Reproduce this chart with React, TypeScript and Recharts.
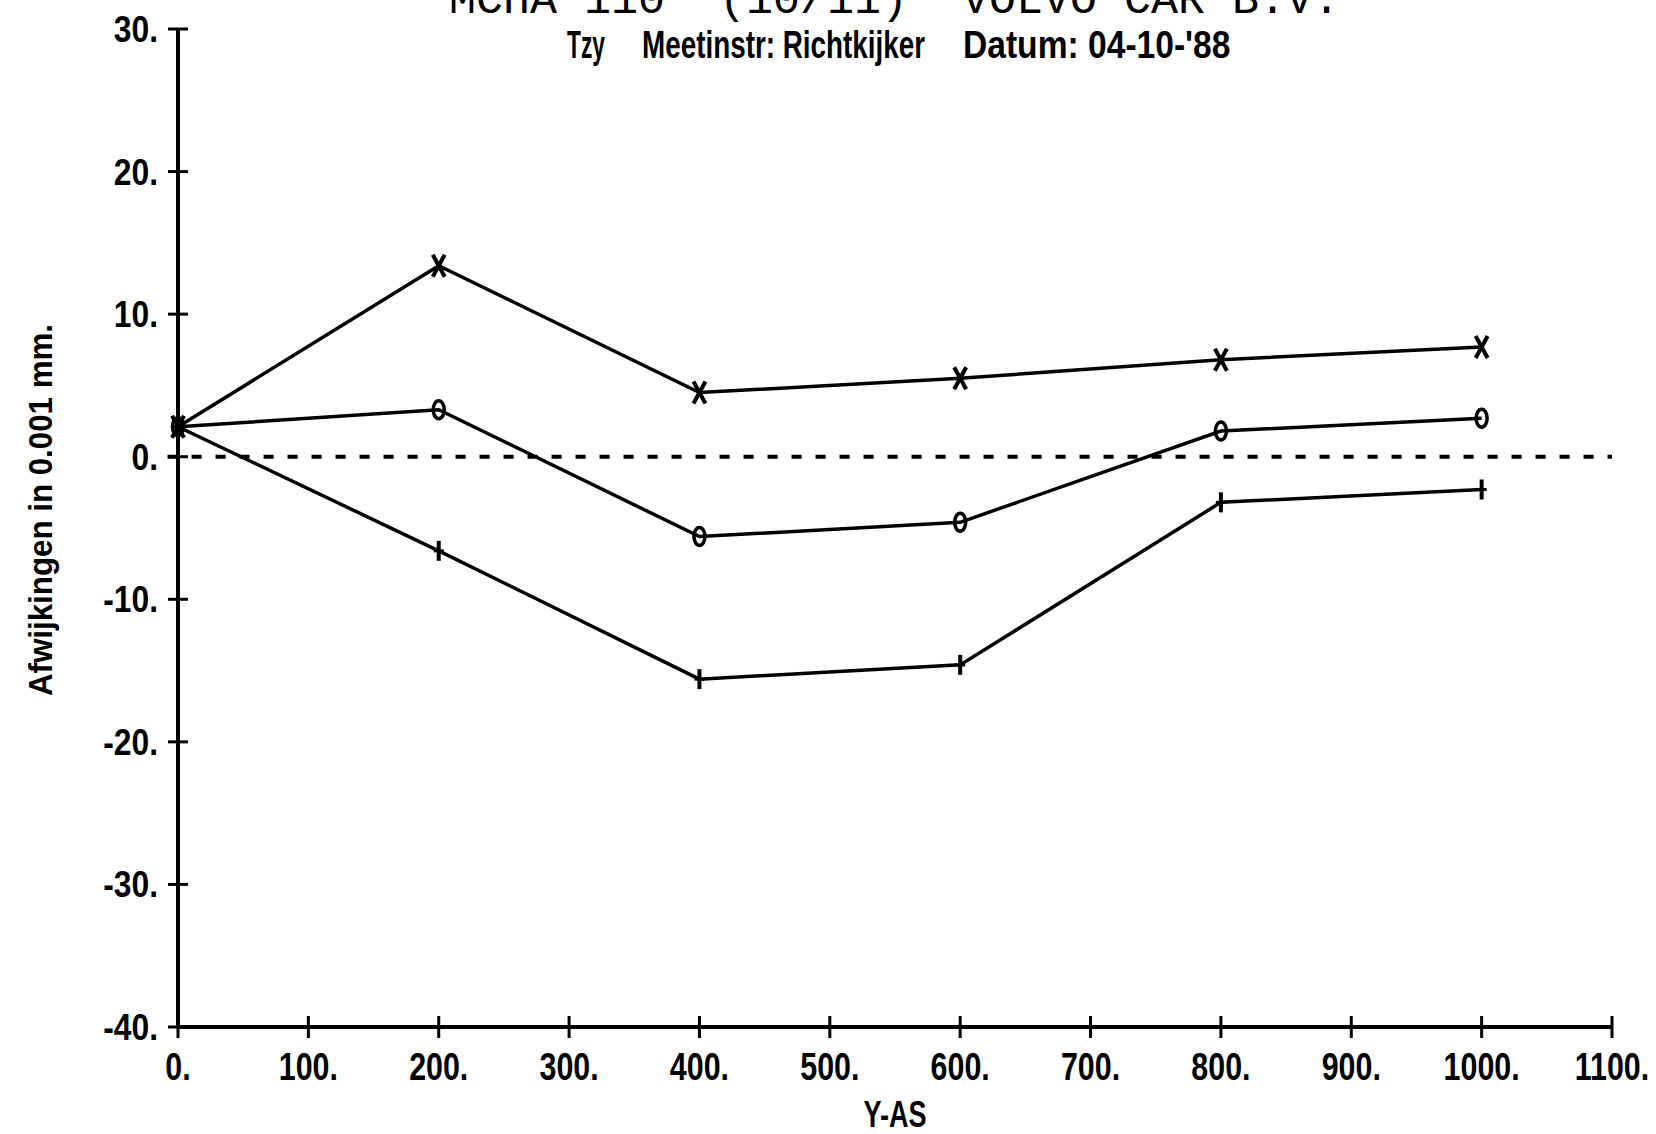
import { LineChart, Line, XAxis, YAxis, ReferenceLine } from 'recharts';

// positions along the Y-AS (mm) and deviations (0.001 mm)
const positions = [0, 200, 400, 600, 800, 1000];
const crossSeries = [2.1, 13.4, 4.5, 5.5, 6.8, 7.7];
const circleSeries = [2.1, 3.3, -5.6, -4.6, 1.8, 2.7];
const plusSeries = [2.1, -6.6, -15.6, -14.6, -3.2, -2.3];

const xTicks = [0, 100, 200, 300, 400, 500, 600, 700, 800, 900, 1000, 1100];
const yTicks = [-40, -30, -20, -10, 0, 10, 20, 30];

const titleParts = ['MCHA', '110', '(10/11)', 'VOLVO', 'CAR', 'B.V.'];
const subtitleParts = ['Tzy', 'Meetinstr: Richtkijker', "Datum: 04-10-'88"];

const data = positions.map((p, i) => ({
  pos: p,
  cross: crossSeries[i],
  circle: circleSeries[i],
  plus: plusSeries[i],
}));

const FONT = "'Liberation Sans', Arial, sans-serif";
const MONO = "'Liberation Mono', 'DejaVu Sans Mono', monospace";
const INK = '#000';

function XTick({ x, y, payload }: any) {
  return (
    <g>
      <line x1={x} x2={x} y1={y - 11} y2={y + 11} stroke={INK} strokeWidth={3} />
      <text
        transform={`translate(${x},${y + 53}) scale(0.8,1)`}
        textAnchor="middle"
        fontSize={38}
        fontFamily={FONT}
        fontWeight="bold"
        fill={INK}
      >
        {`${payload.value}.`}
      </text>
    </g>
  );
}

function YTick({ x, y, payload }: any) {
  return (
    <g>
      <line x1={x - 10} x2={x + 10} y1={y} y2={y} stroke={INK} strokeWidth={3} />
      <text
        transform={`translate(${x - 20},${y + 13}) scale(0.86,1)`}
        textAnchor="end"
        fontSize={37}
        fontFamily={FONT}
        fontWeight="bold"
        fill={INK}
      >
        {`${payload.value}.`}
      </text>
    </g>
  );
}

function crossDot(props: any) {
  const { cx, cy, index } = props;
  return (
    <g key={`x-${index}`}>
      <line x1={cx - 6} y1={cy - 11} x2={cx + 6} y2={cy + 11} stroke={INK} strokeWidth={4} />
      <line x1={cx + 6} y1={cy - 11} x2={cx - 6} y2={cy + 11} stroke={INK} strokeWidth={4} />
    </g>
  );
}

function circleDot(props: any) {
  const { cx, cy, index } = props;
  return <ellipse key={`o-${index}`} cx={cx} cy={cy} rx={5.5} ry={9} fill="none" stroke={INK} strokeWidth={3.5} />;
}

function plusDot(props: any) {
  const { cx, cy, index } = props;
  return (
    <g key={`p-${index}`}>
      <line x1={cx} y1={cy - 10} x2={cx} y2={cy + 10} stroke={INK} strokeWidth={4} />
      <line x1={cx - 5} y1={cy} x2={cx + 5} y2={cy} stroke={INK} strokeWidth={3} />
    </g>
  );
}

function YTitle(props: any) {
  const vb = props.viewBox;
  const cy = vb.y + vb.height / 2 - 18;
  return (
    <text
      transform={`translate(${vb.x - 26},${cy}) rotate(-90)`}
      textAnchor="middle"
      fontSize={33}
      fontFamily={FONT}
      fontWeight="bold"
      fill={INK}
      textLength={372}
      lengthAdjust="spacingAndGlyphs"
    >
      Afwijkingen in 0.001 mm.
    </text>
  );
}

function XTitle(props: any) {
  const vb = props.viewBox;
  return (
    <text
      x={vb.x + vb.width / 2}
      y={1127}
      textAnchor="middle"
      fontSize={36}
      fontFamily={FONT}
      fontWeight="bold"
      fill={INK}
      textLength={63}
      lengthAdjust="spacingAndGlyphs"
    >
      Y-AS
    </text>
  );
}

// left edge of each title word, and left edge / horizontal squeeze of each subtitle piece
const titleX = [449, 584, 719, 962, 1124, 1232];
const subtitleBoxes = [[567, 0.6], [642, 0.733], [963, 0.884]];

export default function App() {
  return (
    <div style={{ position: 'absolute', left: 0, top: 0, width: 1656, height: 1134, background: '#fff' }}>
      <LineChart
        width={1656}
        height={1134}
        data={data}
        margin={{ top: 29, right: 44, bottom: 17, left: 78 }}
      >
        <XAxis
          dataKey="pos"
          type="number"
          domain={[0, 1100]}
          ticks={xTicks}
          interval={0}
          height={90}
          tickSize={0}
          tickMargin={0}
          tickLine={false}
          axisLine={{ stroke: INK, strokeWidth: 4 }}
          tick={<XTick />}
          label={{ content: <XTitle /> }}
        />
        <YAxis
          type="number"
          domain={[-40, 30]}
          ticks={yTicks}
          interval={0}
          width={100}
          tickSize={0}
          tickMargin={0}
          tickLine={false}
          axisLine={{ stroke: INK, strokeWidth: 4 }}
          tick={<YTick />}
          label={{ content: <YTitle /> }}
        />
        <ReferenceLine
          segment={[{ x: -8, y: 0 }, { x: 1100, y: 0 }]}
          ifOverflow="visible"
          stroke={INK}
          strokeWidth={4}
          strokeDasharray="10 14"
        />
        <Line type="linear" dataKey="cross" stroke={INK} strokeWidth={3.5} dot={crossDot} activeDot={false} isAnimationActive={false} />
        <Line type="linear" dataKey="circle" stroke={INK} strokeWidth={3.5} dot={circleDot} activeDot={false} isAnimationActive={false} />
        <Line type="linear" dataKey="plus" stroke={INK} strokeWidth={3.5} dot={plusDot} activeDot={false} isAnimationActive={false} />
      </LineChart>
      <svg width={1656} height={80} style={{ position: 'absolute', left: 0, top: 0, pointerEvents: 'none' }}>
        {titleParts.map((t, i) => (
          <text key={t} x={titleX[i]} y={13} fontSize={45} fontFamily={MONO} fill={INK}>
            {t}
          </text>
        ))}
        {subtitleParts.map((t, i) => (
          <text
            key={t}
            transform={`translate(${subtitleBoxes[i][0]},58) scale(${subtitleBoxes[i][1]},1)`}
            fontSize={38}
            fontFamily={FONT}
            fontWeight="bold"
            fill={INK}
          >
            {t}
          </text>
        ))}
      </svg>
    </div>
  );
}
